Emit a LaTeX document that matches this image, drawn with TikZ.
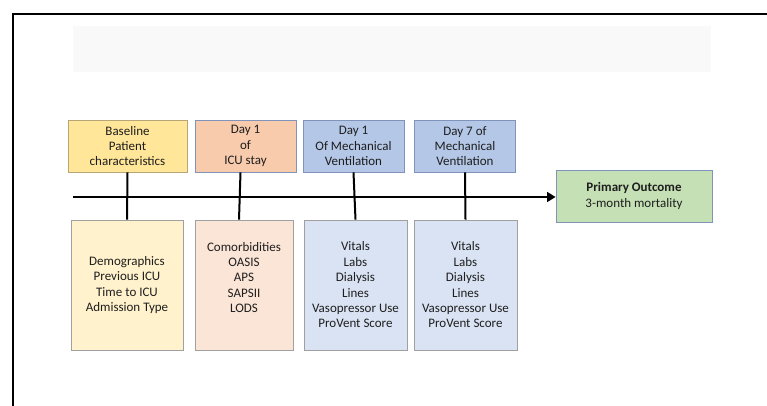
\documentclass[tikz,border=0pt]{standalone}
\usepackage{fontspec}
\setmainfont{Carlito}
\usepackage{tikz}
\usetikzlibrary{arrows.meta}
\definecolor{basetop}{HTML}{FFE699}
\definecolor{basebot}{HTML}{FFF2CC}
\definecolor{icutop}{HTML}{F8CBAD}
\definecolor{icubot}{HTML}{FBE5D6}
\definecolor{mvtop}{HTML}{B4C7E7}
\definecolor{mvbot}{HTML}{DAE3F3}
\definecolor{outfill}{HTML}{C5E0B4}
\definecolor{edgeblue}{HTML}{7F93BB}
\definecolor{edgegold}{HTML}{B8A678}
\definecolor{edgegray}{HTML}{A0A0A0}
\definecolor{banner}{HTML}{F9F9F9}
\definecolor{ink}{HTML}{1E1E1E}

\begin{document}
\begin{tikzpicture}[x=1pt,y=-1pt,>=Triangle,
  every node/.style={font=\fontsize{13}{15.4}\selectfont,text=ink,align=center},
  topbox/.style={draw=edgeblue,line width=0.8pt,minimum height=52pt,inner sep=0pt},
  botbox/.style={draw=edgegray,line width=0.8pt,minimum height=130pt,inner sep=0pt},
  link/.style={line width=2pt,black}]
\useasboundingbox (0,0) rectangle (767,406);
\fill[banner] (73,26) rectangle (711,72);
\draw[line width=1.5pt] (13,406) -- (13,14) -- (767,14);
\node[topbox,draw=edgegold,fill=basetop,minimum width=119pt] (t1) at (127.5,146) {Baseline\\Patient\\characteristics};
\node[topbox,fill=icutop,minimum width=101pt] (t2) at (245.5,146) {Day 1\\of\\ICU stay};
\node[topbox,fill=mvtop,minimum width=101pt] (t3) at (353.5,146) {Day 1\\Of Mechanical\\Ventilation};
\node[topbox,fill=mvtop,minimum width=101pt] (t4) at (465,146) {Day 7 of\\Mechanical\\Ventilation};
\node[botbox,fill=basebot,minimum width=112pt] (b1) at (127,285) {Demographics\\Previous ICU\\Time to ICU\\Admission Type};
\node[botbox,fill=icubot,minimum width=98pt] (b2) at (244,285) {Comorbidities\\OASIS\\APS\\SAPSII\\LODS\\\mbox{}};
\node[botbox,fill=mvbot,minimum width=103pt] (b3) at (355.5,285) {Vitals\\Labs\\Dialysis\\Lines\\Vasopressor Use\\ProVent Score};
\node[botbox,fill=mvbot,minimum width=103pt] (b4) at (465.5,285) {Vitals\\Labs\\Dialysis\\Lines\\Vasopressor Use\\ProVent Score};
\node[draw=edgeblue,line width=0.8pt,fill=outfill,minimum width=156pt,minimum height=52pt] (out) at (634,196) {\textbf{Primary Outcome}\\3-month mortality};
\coordinate (start) at (73,197);
\draw[link,->] (start) -- (out.west |- start);
\draw[link] (t1.south) -- (b1.north);
\draw[link] ([xshift=-5pt]t2.south) -- ([xshift=-5pt]b2.north);
\draw[link] (t3.south) -- (b3.north);
\draw[link] (t4.south) -- (b4.north);
\end{tikzpicture}
\end{document}
